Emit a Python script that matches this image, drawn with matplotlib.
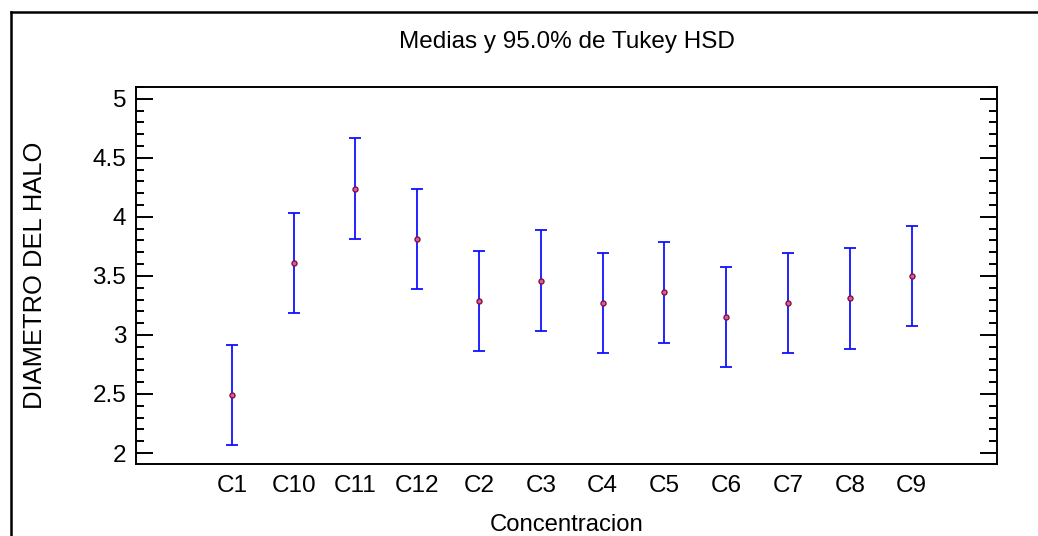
import matplotlib
matplotlib.use("Agg")
import matplotlib.pyplot as plt
from matplotlib.lines import Line2D
from matplotlib.ticker import MultipleLocator

plt.rcParams['font.family'] = ['Liberation Sans', 'DejaVu Sans']

grupos = ["C1", "C10", "C11", "C12", "C2", "C3", "C4", "C5", "C6", "C7", "C8", "C9"]
medias = [2.49, 3.61, 4.24, 3.81, 3.29, 3.46, 3.27, 3.36, 3.15, 3.27, 3.31, 3.50]
semi_hsd = [0.425] * 12

W, H = 1038, 536
fig = plt.figure(figsize=(W / 100, H / 100), dpi=100)
ax = fig.add_axes([136 / W, 1 - 464 / H, (997 - 136) / W, (464 - 87) / H])

x = list(range(len(grupos)))
ax.errorbar(x, medias, yerr=semi_hsd, fmt='none', ecolor='#1010ff',
            elinewidth=1.3, capsize=4.6, capthick=1.3)
ax.plot(x, medias, 'o', ms=3.6, mfc='#d060a0', mec='#8a1040', mew=1.0, ls='none')

ax.set_xlim(-1.55, 12.38)
ax.set_ylim(1.907, 5.1)
ax.set_xticks(x)
ax.set_xticklabels(grupos)
ax.yaxis.set_minor_locator(MultipleLocator(0.1))
ax.set_yticks([2, 2.5, 3, 3.5, 4, 4.5, 5])
ax.set_yticklabels(["2", "2.5", "3", "3.5", "4", "4.5", "5"])
ax.tick_params(axis='y', which='major', direction='in', length=12, width=1.4,
               left=True, right=True, labelsize=17.5, pad=7)
ax.tick_params(axis='y', which='minor', direction='in', length=5.5, width=1.4,
               left=True, right=True)
ax.tick_params(axis='x', length=0, labelsize=17.5, pad=8)
for s in ax.spines.values():
    s.set_linewidth(1.4)

ax.set_title("Medias y 95.0% de Tukey HSD", fontsize=17.5, pad=28)
ax.set_xlabel("Concentracion", fontsize=17.2, labelpad=12)
ax.set_ylabel("DIAMETRO DEL HALO", fontsize=18.4, labelpad=33)

# marco exterior (solo se ven el borde izquierdo y el superior)
fig.lines.append(Line2D([11 / W, 11 / W], [-0.1, 1 - 12 / H], transform=fig.transFigure,
                        color='black', lw=1.8))
fig.lines.append(Line2D([11 / W, 1.1], [1 - 12 / H, 1 - 12 / H], transform=fig.transFigure,
                        color='black', lw=1.8))

fig.savefig("out.png", dpi=100)
